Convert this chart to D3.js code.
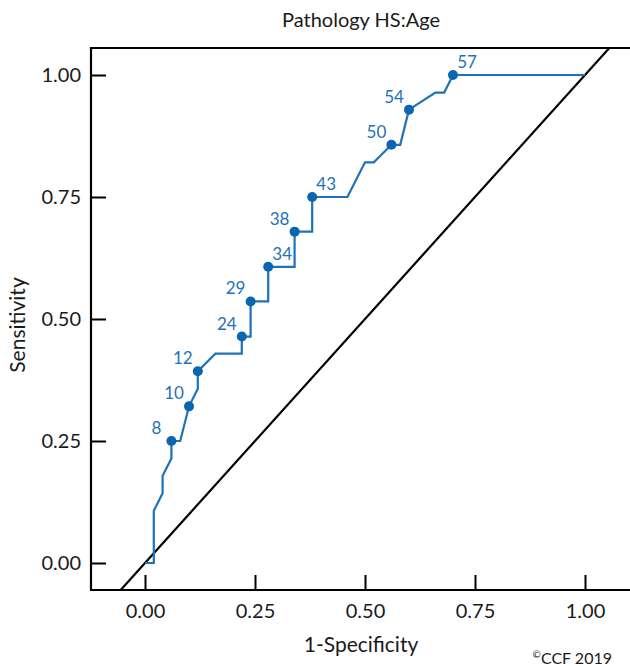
<!DOCTYPE html>
<html>
<head>
<meta charset="utf-8">
<script src="https://cdn.jsdelivr.net/npm/d3@7"></script>
<style>
  body { margin: 0; background: #fff; }
  svg text { font-family: Lato, "Open Sans", sans-serif; }
</style>
</head>
<body>
<svg id="chart" width="630" height="669"></svg>
<script>
// ── data ──────────────────────────────────────────────────────────────────────
// ROC step curve: 1-specificity (x) and sensitivity (y)
const fpr = [0, 0.02, 0.02, 0.04, 0.04, 0.06, 0.06, 0.08, 0.10, 0.12, 0.12, 0.16, 0.22, 0.22,
             0.24, 0.24, 0.28, 0.28, 0.34, 0.34, 0.38, 0.38, 0.46, 0.50, 0.52, 0.56, 0.58,
             0.60, 0.66, 0.68, 0.70, 1.00];
const tpr = [0, 0, 0.107, 0.143, 0.179, 0.214, 0.25, 0.25, 0.321, 0.357, 0.393, 0.429, 0.429, 0.464,
             0.464, 0.536, 0.536, 0.607, 0.607, 0.679, 0.679, 0.75, 0.75, 0.821, 0.821, 0.857, 0.857,
             0.929, 0.964, 0.964, 1.00, 1.00];

// labelled cut-off points
const cutoffs   = [8, 10, 12, 24, 29, 34, 38, 43, 50, 54, 57];
const cutoffFpr = [0.06, 0.10, 0.12, 0.22, 0.24, 0.28, 0.34, 0.38, 0.56, 0.60, 0.70];
const cutoffTpr = [0.25, 0.321, 0.393, 0.464, 0.536, 0.607, 0.679, 0.75, 0.857, 0.929, 1.00];

const ticks      = [0, 0.25, 0.5, 0.75, 1];
const tickLabels = ['0.00', '0.25', '0.50', '0.75', '1.00'];

// ── layout ────────────────────────────────────────────────────────────────────
const svg = d3.select('#chart');
const box = { left: 91, top: 48, right: 631, bottom: 590 };

const x = d3.scaleLinear().domain([0, 1]).range([145, 585]);
const y = d3.scaleLinear().domain([0, 1]).range([563, 75]);

const blue = '#1f71b8';
const ink  = '#1a1a1a';

svg.append('clipPath').attr('id', 'plot-clip')
  .append('rect')
  .attr('x', box.left).attr('y', box.top)
  .attr('width', box.right - box.left).attr('height', box.bottom - box.top);

// ── reference diagonal (y = x), clipped to the panel ─────────────────────────
const diag = [-0.1, 1.1];
svg.append('line')
  .attr('clip-path', 'url(#plot-clip)')
  .attr('x1', x(diag[0])).attr('y1', y(diag[0]))
  .attr('x2', x(diag[1])).attr('y2', y(diag[1]))
  .attr('stroke', '#000').attr('stroke-width', 2.2);

// ── ROC curve ────────────────────────────────────────────────────────────────
const line = d3.line().x(d => x(d[0])).y(d => y(d[1]));
svg.append('path')
  .datum(d3.zip(fpr, tpr))
  .attr('d', line)
  .attr('fill', 'none')
  .attr('stroke', blue)
  .attr('stroke-width', 2.2);

const pts = cutoffs.map((c, i) => ({ c, fx: cutoffFpr[i], ty: cutoffTpr[i] }));
const rightSide = new Set([57, 43, 34]);   // labels placed to the right of the dot

svg.selectAll('.dot')
  .data(pts).join('circle')
  .attr('class', 'dot')
  .attr('cx', d => x(d.fx)).attr('cy', d => y(d.ty))
  .attr('r', 5)
  .attr('fill', '#0a66b0');

svg.selectAll('.cut-label')
  .data(pts).join('text')
  .attr('class', 'cut-label')
  .attr('x', d => x(d.fx) + (rightSide.has(d.c) ? 14 : -15))
  .attr('y', d => y(d.ty) - 7)
  .attr('text-anchor', 'middle')
  .attr('fill', blue)
  .attr('font-size', '17px')
  .text(d => d.c);

// ── frame + axes ─────────────────────────────────────────────────────────────
svg.append('path')
  .attr('d', `M${box.right},${box.top}H${box.left}V${box.bottom}H${box.right}`)
  .attr('fill', 'none').attr('stroke', '#000').attr('stroke-width', 2.2);

const xAxis = svg.append('g').attr('transform', `translate(0,${box.bottom})`)
  .call(d3.axisBottom(x).tickValues(ticks).tickFormat((d, i) => tickLabels[i])
    .tickSizeInner(-15).tickSizeOuter(0).tickPadding(14));
const yAxis = svg.append('g').attr('transform', `translate(${box.left},0)`)
  .call(d3.axisLeft(y).tickValues(ticks).tickFormat((d, i) => tickLabels[i])
    .tickSizeInner(-15).tickSizeOuter(0).tickPadding(10));

[xAxis, yAxis].forEach(g => {
  g.select('.domain').remove();
  g.selectAll('.tick line').attr('stroke', '#000').attr('stroke-width', 2);
  g.selectAll('.tick text').attr('fill', ink).attr('font-size', '20px')
    .attr('font-family', 'Lato, "Open Sans", sans-serif');
});

// ── titles ───────────────────────────────────────────────────────────────────
svg.append('text')
  .attr('x', 361).attr('y', 27)
  .attr('text-anchor', 'middle').attr('font-size', '20px').attr('fill', ink)
  .text('Pathology HS:Age');

svg.append('text')
  .attr('x', 361).attr('y', 652)
  .attr('text-anchor', 'middle').attr('font-size', '21px').attr('fill', ink)
  .text('1-Specificity');

svg.append('text')
  .attr('transform', `translate(25,${(box.top + box.bottom) / 2 + 6}) rotate(-90)`)
  .attr('text-anchor', 'middle').attr('font-size', '21px').attr('fill', ink)
  .text('Sensitivity');

const cr = svg.append('text')
  .attr('x', 612).attr('y', 664)
  .attr('text-anchor', 'end').attr('font-size', '16px').attr('fill', ink);
cr.append('tspan').attr('font-size', '10px').attr('dy', -6).text('©');
cr.append('tspan').attr('dy', 6).text('CCF 2019');
</script>
</body>
</html>
